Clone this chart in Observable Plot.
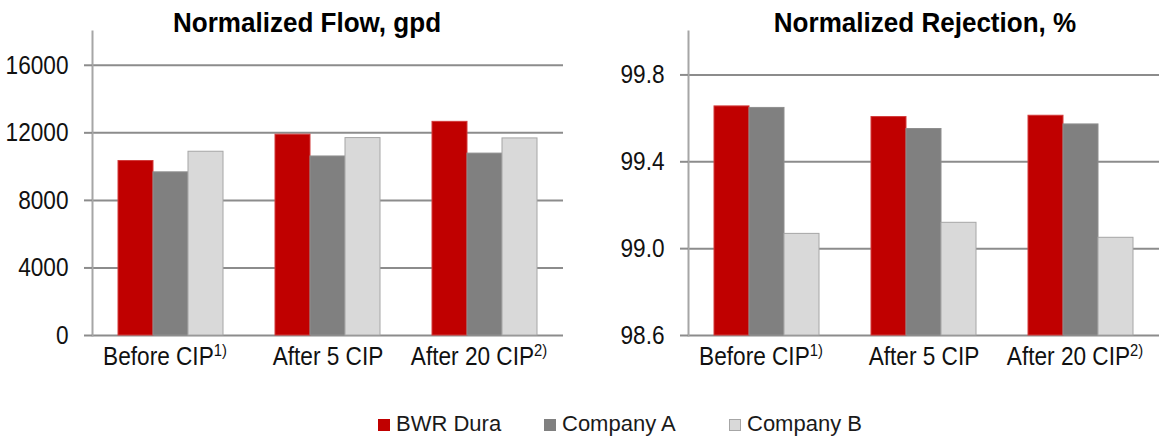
<!DOCTYPE html>
<html><head><meta charset="utf-8">
<script src="https://cdn.jsdelivr.net/npm/d3@7"></script>
<script src="https://cdn.jsdelivr.net/npm/@observablehq/plot@0.6"></script>
<style>
body{margin:0;background:#fff;}
#wrap{position:relative;width:1167px;height:436px;overflow:hidden;}
.chart{position:absolute;top:0;}
.title{position:absolute;top:6px;font-family:"Liberation Sans",Arial,sans-serif;font-weight:bold;font-size:28px;line-height:34px;white-space:nowrap;transform:translateX(-50%) scaleX(0.93);color:#000;}
.leg{position:absolute;top:413px;font-family:"Liberation Sans",Arial,sans-serif;font-size:22px;line-height:22px;color:#1a1a1a;white-space:nowrap;}
.sw{display:inline-block;width:12px;height:12px;margin-right:6px;box-sizing:border-box;vertical-align:0px;}
</style></head><body><div id="wrap"></div>
<script>
const categories = ["Before CIP", "After 5 CIP", "After 20 CIP"];
const footnotes = ["1)", "", "2)"];
const series = ["BWR Dura", "Company A", "Company B"];
const fills = ["#C00000", "#808080", "#D9D9D9"];
const strokes = ["#D23A3A", "#8E8E8E", "#A6A6A6"];
const flowBWR = [10330, 11890, 12650];
const flowA = [9660, 10600, 10770];
const flowB = [10880, 11690, 11670];
const rejBWR = [99.655, 99.606, 99.612];
const rejA = [99.648, 99.551, 99.572];
const rejB = [99.068, 99.119, 99.050];
const flowTicks = [0, 4000, 8000, 12000, 16000];
const rejTicks = [98.6, 99.0, 99.4, 99.8];
const flowDomain = [0, 18000];
const rejDomain = [98.6, 100];
const titles = ["Normalized Flow, gpd", "Normalized Rejection, %"];

function rowsOf(arrs) {
  const rows = [];
  categories.forEach((c, i) => series.forEach((s, j) => rows.push({category: c, series: s, value: arrs[j][i]})));
  return rows;
}

const FONT = '"Liberation Sans",Arial,sans-serif';
const NARROW = 0.87;

function narrow(svg, sel) {
  d3.select(svg).selectAll(sel).each(function() {
    const len = this.getComputedTextLength();
    if (len > 0) {
      this.setAttribute("textLength", (len * NARROW).toFixed(2));
      this.setAttribute("lengthAdjust", "spacingAndGlyphs");
    }
  });
}

function chart({rows, domain, ticks, fmt, width, marginLeft, marginRight}) {
  const base = domain[0];
  const svg = Plot.plot({
    width, height: 380,
    marginLeft, marginRight, marginTop: 31, marginBottom: 45,
    style: {fontFamily: FONT, fontSize: "26px", color: "#111", background: "transparent", overflow: "visible"},
    fx: {domain: categories, padding: 0, label: null, axis: null},
    x: {domain: series, paddingInner: 0, paddingOuter: 0.71, axis: null},
    y: {domain, label: null},
    marks: [
      Plot.gridY(ticks, {stroke: "#8c8c8c", strokeOpacity: 1, strokeWidth: 2}),
      Plot.frame({anchor: "left", facetAnchor: "left", stroke: "#a6a6a6", strokeWidth: 2}),
      Plot.axisY(ticks, {tickSize: 8, tickPadding: 16, stroke: "#8c8c8c", strokeWidth: 2, tickFormat: fmt, fontSize: 26, label: null}),
      ...series.map((s, j) => Plot.barY(rows.filter(r => r.series === s), {
        fx: "category", x: "series", y1: base, y2: "value",
        fill: fills[j], stroke: strokes[j], strokeWidth: 1
      })),
      Plot.axisFx({anchor: "bottom", tickSize: 0, tickPadding: 11, label: null, fontSize: 26})
    ]
  });
  d3.select(svg).selectAll('g[aria-label="fx-axis tick label"] text').each(function() {
    const idx = categories.indexOf(this.textContent);
    if (idx >= 0 && footnotes[idx]) {
      d3.select(this).attr("dx", -6);
      d3.select(this).append("tspan").attr("font-size", 17).attr("dy", "-0.5em").text(footnotes[idx]);
    }
  });
  return svg;
}

const wrap = document.getElementById("wrap");
const left = chart({rows: rowsOf([flowBWR, flowA, flowB]), domain: flowDomain, ticks: flowTicks, fmt: d => String(d), width: 580, marginLeft: 92, marginRight: 17});
left.classList.add("chart"); left.style.left = "0px";
const right = chart({rows: rowsOf([rejBWR, rejA, rejB]), domain: rejDomain, ticks: rejTicks, fmt: d3.format(".1f"), width: 587, marginLeft: 107, marginRight: 8});
right.classList.add("chart"); right.style.left = "580px";
wrap.append(left, right);
for (const svg of [left, right]) {
  narrow(svg, 'g[aria-label="fx-axis tick label"] text');
  narrow(svg, 'g[aria-label="y-axis tick label"] text');
}

[[titles[0], 307], [titles[1], 925]].forEach(([t, x]) => {
  const d = document.createElement("div");
  d.className = "title"; d.style.left = x + "px"; d.textContent = t;
  wrap.append(d);
});

const legX = [378, 544, 729];
series.forEach((s, j) => {
  const d = document.createElement("div");
  d.className = "leg"; d.style.left = legX[j] + "px";
  const sw = document.createElement("span");
  sw.className = "sw"; sw.style.background = fills[j];
  if (j === 2) sw.style.border = "1px solid " + strokes[j];
  d.append(sw, document.createTextNode(s));
  wrap.append(d);
});
</script></body></html>
